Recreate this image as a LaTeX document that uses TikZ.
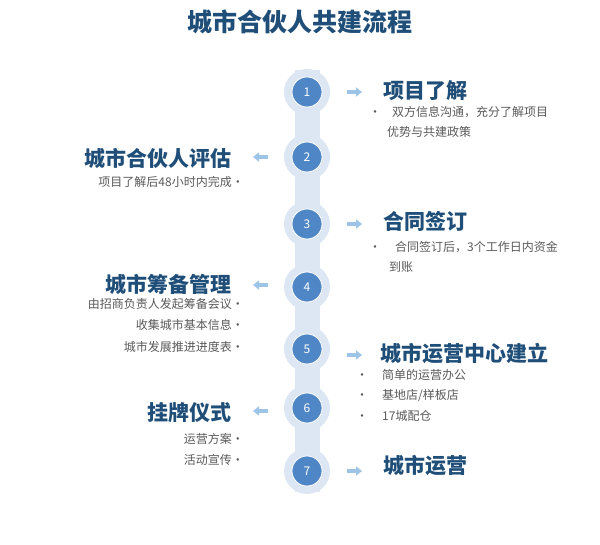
\documentclass[tikz,border=0pt]{standalone}
\usepackage{fontspec}
\setmainfont{Noto Sans CJK SC}
\usetikzlibrary{positioning}
\definecolor{titleblue}{HTML}{1F4E79}
\definecolor{barblue}{HTML}{DCE7F3}
\definecolor{dotblue}{HTML}{4F86C6}
\definecolor{arrowblue}{HTML}{9DC3E6}
\definecolor{textgray}{HTML}{595959}
\tikzset{
  ring/.style={circle,fill=barblue,minimum size=46pt,inner sep=0pt},
  dot/.style={circle,fill=dotblue,draw=white,line width=0.8pt,minimum size=30pt,inner sep=0pt,text=white,font=\fontsize{12}{12}\selectfont},
  head/.style={font=\bfseries\fontsize{21}{21}\selectfont,text=titleblue,inner sep=0pt},
  body/.style={font=\fontsize{12}{20.5}\selectfont,text=textgray,inner sep=0pt,align=left},
  bodyl/.style={font=\fontsize{12}{21.5}\selectfont,text=textgray,inner sep=0pt,align=right},
  stepArrow/.style={arrowblue,line width=3.5pt,-{Triangle[length=6pt,width=9pt]}}
}
\usetikzlibrary{arrows.meta}
\begin{document}
\begin{tikzpicture}[x=1pt,y=-1pt]
  \useasboundingbox (0,0) rectangle (600,545);
  \node[font=\bfseries\fontsize{25}{25}\selectfont,text=titleblue] (title) at (300,22) {城市合伙人共建流程};
  % bar
  \fill[barblue] (295,70) rectangle (320,492);
  % steps
  \foreach \n/\y in {1/92,2/157,3/224,4/287,5/349,6/408,7/471}{
    \node[ring] (ring\n) at (307,\y) {};
    \node[dot] (dot\n) at (307,\y) {\n};
  }
  % right side
  \coordinate (ra1) at (347,92); \coordinate (rb1) at (362,92);
  \draw[stepArrow] (ra1) -- (rb1);
  \node[head,anchor=west] (h1) at (383,91) {项目了解};
  \node[body,anchor=north west] (b1) at (369,106) {•\hspace{11pt}双方信息沟通，充分了解项目\\\hspace{18pt}优势与共建政策};
  \coordinate (ra3) at (347,224); \coordinate (rb3) at (362,224);
  \draw[stepArrow] (ra3) -- (rb3);
  \node[head,anchor=west] (h3) at (383,221) {合同签订};
  \node[body,anchor=north west] (b3) at (369,241) {•\hspace{14pt}合同签订后，3个工作日内资金\\\hspace{20pt}到账};
  \coordinate (ra5) at (347,355); \coordinate (rb5) at (362,355);
  \draw[stepArrow] (ra5) -- (rb5);
  \node[head,anchor=west] (h5) at (380,354) {城市运营中心建立};
  \node[body,anchor=north west] (b5) at (356,369) {•\hspace{14pt}简单的运营办公\\•\hspace{14pt}基地店/样板店\\•\hspace{14pt}17城配仓};
  \coordinate (ra7) at (347,471); \coordinate (rb7) at (362,471);
  \draw[stepArrow] (ra7) -- (rb7);
  \node[head,anchor=west] (h7) at (383,466) {城市运营};
  % left side
  \coordinate (la2) at (268,157); \coordinate (lb2) at (253,157);
  \draw[stepArrow] (la2) -- (lb2);
  \node[head,anchor=east] (h2) at (232,158) {城市合伙人评估};
  \node[bodyl,anchor=north east] (b2) at (244,176) {项目了解后48小时内完成·};
  \coordinate (la4) at (268,285); \coordinate (lb4) at (253,285);
  \draw[stepArrow] (la4) -- (lb4);
  \node[head,anchor=east] (h4) at (232,284) {城市筹备管理};
  \node[bodyl,anchor=north east] (b4) at (244,298) {由招商负责人发起筹备会议·\\收集城市基本信息·\\城市发展推进进度表·};
  \coordinate (la6) at (268,411); \coordinate (lb6) at (253,411);
  \draw[stepArrow] (la6) -- (lb6);
  \node[head,anchor=east] (h6) at (232,413) {挂牌仪式};
  \node[bodyl,anchor=north east] (b6) at (244,433) {运营方案·\\活动宣传·};
\end{tikzpicture}
\end{document}
